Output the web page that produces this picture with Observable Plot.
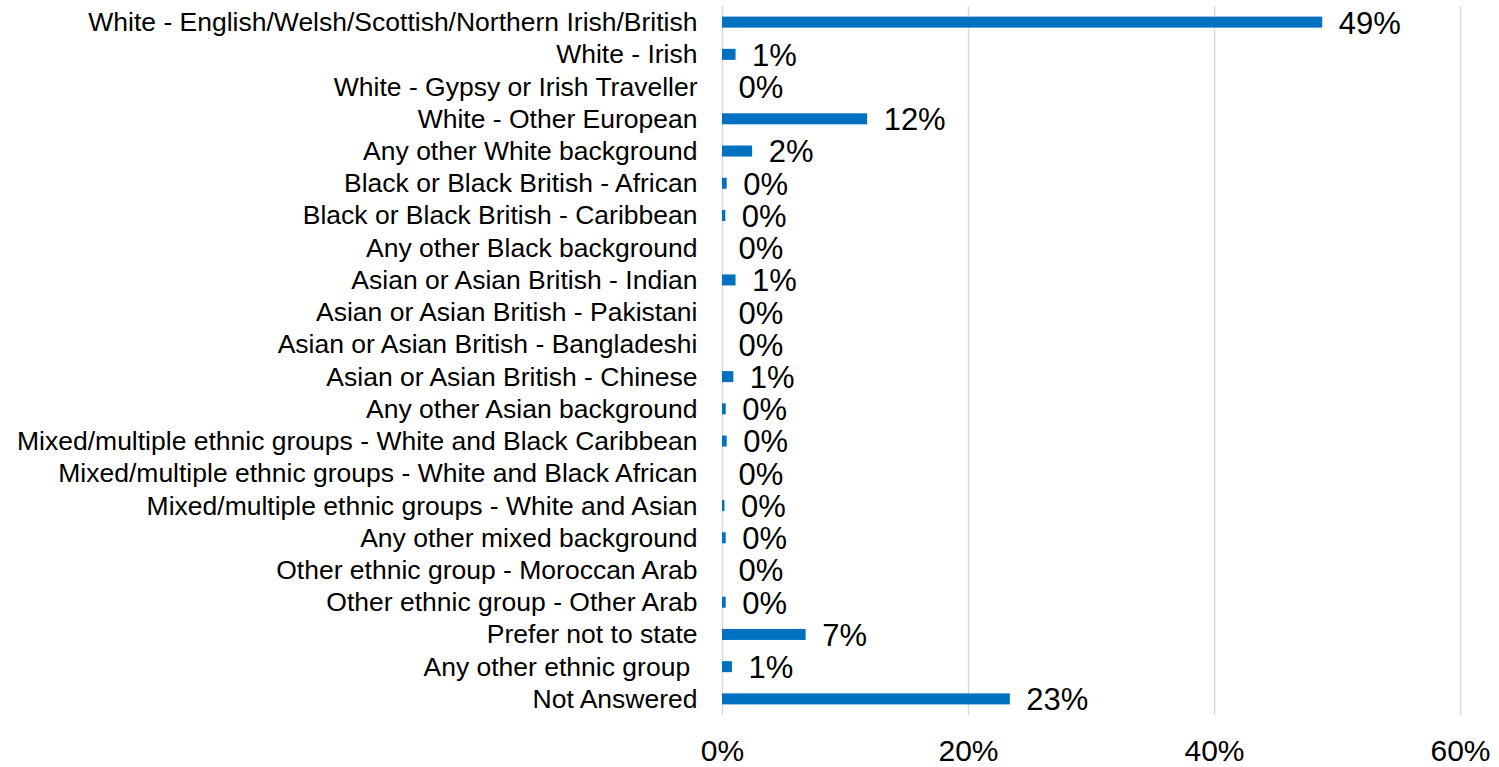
<!DOCTYPE html>
<html>
<head>
<meta charset="utf-8">
<script src="https://cdn.jsdelivr.net/npm/d3@7"></script>
<script src="https://cdn.jsdelivr.net/npm/@observablehq/plot@0.6"></script>
<style>
  html, body { margin: 0; padding: 0; background: #fff; }
  #chart svg { display: block; }
</style>
</head>
<body>
<div id="chart"></div>
<script>
const categories = [
  "White - English/Welsh/Scottish/Northern Irish/British",
  "White - Irish",
  "White - Gypsy or Irish Traveller",
  "White - Other European",
  "Any other White background",
  "Black or Black British - African",
  "Black or Black British - Caribbean",
  "Any other Black background",
  "Asian or Asian British - Indian",
  "Asian or Asian British - Pakistani",
  "Asian or Asian British - Bangladeshi",
  "Asian or Asian British - Chinese",
  "Any other Asian background",
  "Mixed/multiple ethnic groups - White and Black Caribbean",
  "Mixed/multiple ethnic groups - White and Black African",
  "Mixed/multiple ethnic groups - White and Asian",
  "Any other mixed background",
  "Other ethnic group - Moroccan Arab",
  "Other ethnic group - Other Arab",
  "Prefer not to state",
  "Any other ethnic group ",
  "Not Answered"
];
const values = [
  0.488, 0.011, 0.0, 0.118, 0.0245, 0.0038, 0.0027, 0.0,
  0.011, 0.0, 0.0, 0.0092, 0.003, 0.0038, 0.0, 0.002,
  0.003, 0.0, 0.003, 0.068, 0.0081, 0.234
];
const xTicks = [0, 0.2, 0.4, 0.6];

const data = categories.map((c, i) => ({category: c, value: values[i]}));
const pct = d3.format(".0%");

const chart = Plot.plot({
  width: 1499,
  height: 767,
  marginLeft: 722,
  marginRight: 39,
  marginTop: 6,
  marginBottom: 52,
  style: {fontFamily: "'Liberation Sans', Arial, sans-serif", background: "#fff", color: "#000"},
  x: {domain: [0, 0.6]},
  y: {domain: categories, padding: 0, round: false},
  marks: [
    Plot.gridX(xTicks, {stroke: "#d9d9d9", strokeOpacity: 1, strokeWidth: 1.5}),
    Plot.barX(data, {x: "value", y: "category", fill: "#0070C0", insetTop: 10.6, insetBottom: 10.6}),
    Plot.text(data, {
      x: "value", y: "category", text: d => pct(d.value),
      textAnchor: "start", dx: 16, dy: 1, fontSize: 31, fill: "#000"
    }),
    Plot.axisX(xTicks, {tickFormat: pct, tickSize: 0, tickPadding: 24, fontSize: 30, label: null, fill: "#000"}),
    Plot.axisY({tickSize: 0, tickPadding: 25, fontSize: 26.5, label: null, fill: "#000"})
  ]
});
document.getElementById("chart").append(chart);
</script>
</body>
</html>
